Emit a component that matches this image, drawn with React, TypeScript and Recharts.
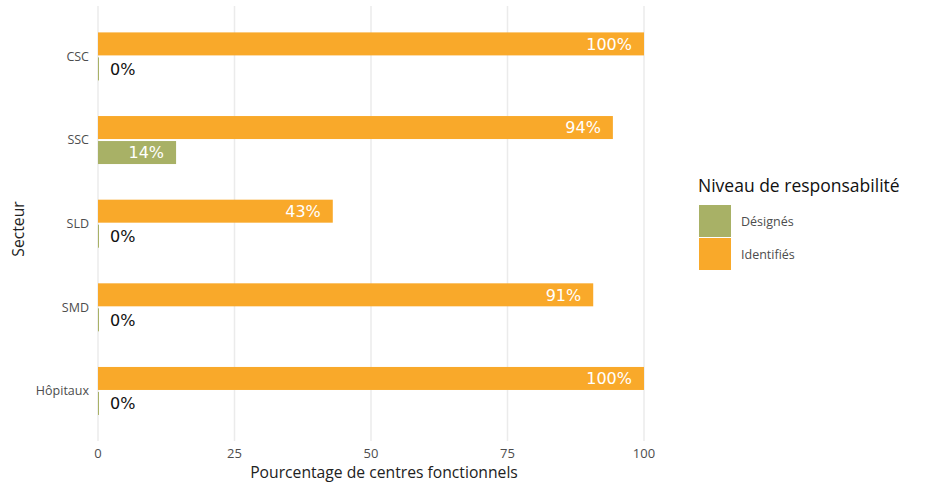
import { BarChart, Bar, XAxis, YAxis, CartesianGrid, LabelList } from "recharts";

const sectors = ["CSC", "SSC", "SLD", "SMD", "Hôpitaux"];
const identifies = [100, 94.3, 43, 90.7, 100];
const designes = [0, 14.3, 0, 0, 0];
const xTicks = [0, 25, 50, 75, 100];

const ORANGE = "#F9A92A";
const GREEN = "#A8B166";
const AXIS_FONT = "'Open Sans', 'Noto Sans', sans-serif";
const LABEL_FONT = "'DejaVu Sans', sans-serif";

const data = sectors.map((s, i) => ({
  sector: s,
  identifies: identifies[i],
  designes: designes[i],
}));

// zero-width bars still show as a thin stroke
function ThinBar(props: any) {
  const { x, y, width, height, fill } = props;
  return <rect x={x} y={y} width={Math.max(width || 0, 1)} height={height} fill={fill} />;
}

function PctLabel(props: any) {
  const { x, y, width, height, value } = props;
  const cy = y + height / 2;
  const txt = `${Math.round(value)}%`;
  if (!value) {
    return (
      <text x={x + 12} y={cy} dy="0.36em" fontSize={16} fontFamily={LABEL_FONT} fill="#111" textAnchor="start">
        {txt}
      </text>
    );
  }
  return (
    <text x={x + width - 12} y={cy} dy="0.36em" fontSize={16} fontFamily={LABEL_FONT} fill="#fff" textAnchor="end">
      {txt}
    </text>
  );
}

export default function App() {
  return (
    <div style={{ position: "absolute", left: 0, top: 0, width: 945, height: 493, background: "#fff" }}>
      <BarChart
        width={945}
        height={493}
        data={data}
        layout="vertical"
        margin={{ top: 6, right: 301, bottom: 22, left: 0 }}
        barSize={23}
        barGap={2}
      >
        <CartesianGrid horizontal={false} stroke="#EBEBEB" strokeWidth={1.5} />
        <XAxis
          type="number"
          domain={[0, 100]}
          ticks={xTicks}
          axisLine={false}
          tickLine={false}
          tickSize={0}
          tickMargin={8}
          height={30}
          tick={{ fill: "#4D4D4D", fontSize: 13, fontFamily: AXIS_FONT }}
        />
        <YAxis
          type="category"
          dataKey="sector"
          width={98}
          axisLine={false}
          tickLine={false}
          tickSize={0}
          tickMargin={9}
          padding={{ top: 8.4, bottom: 8.4 }}
          tick={{ fill: "#4D4D4D", fontSize: 12.5, fontFamily: AXIS_FONT }}
        />
        <Bar dataKey="identifies" fill={ORANGE} isAnimationActive={false} shape={ThinBar}>
          <LabelList dataKey="identifies" content={PctLabel} />
        </Bar>
        <Bar dataKey="designes" fill={GREEN} isAnimationActive={false} shape={ThinBar}>
          <LabelList dataKey="designes" content={PctLabel} />
        </Bar>
        <text x={384} y={478} textAnchor="middle" fontSize={15.7} fontFamily={AXIS_FONT} fill="#222">
          Pourcentage de centres fonctionnels
        </text>
        <text
          x={24}
          y={229}
          textAnchor="middle"
          fontSize={15.7}
          fontFamily={AXIS_FONT}
          fill="#222"
          transform="rotate(-90 24 229)"
        >
          Secteur
        </text>
      </BarChart>
      <div style={{ position: "absolute", left: 698, top: 173, fontFamily: AXIS_FONT, fontSize: 17.5, color: "#111", whiteSpace: "nowrap" }}>
        Niveau de responsabilité
      </div>
      {[
        { label: "Désignés", color: GREEN, top: 205 },
        { label: "Identifiés", color: ORANGE, top: 238 },
      ].map((it) => (
        <div key={it.label} style={{ position: "absolute", left: 699, top: it.top, display: "flex", alignItems: "center" }}>
          <div style={{ width: 32, height: 32, background: it.color }} />
          <span style={{ marginLeft: 10, fontFamily: AXIS_FONT, fontSize: 12.5, color: "#4D4D4D" }}>{it.label}</span>
        </div>
      ))}
    </div>
  );
}
